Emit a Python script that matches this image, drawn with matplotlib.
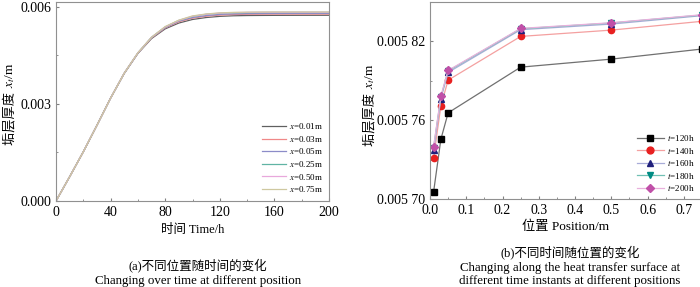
import numpy as np
import matplotlib
matplotlib.use("Agg")
import matplotlib.pyplot as plt
from matplotlib.ticker import MultipleLocator, FixedLocator, FixedFormatter

plt.rcParams['font.family'] = ['Liberation Serif', 'Noto Sans CJK SC']
plt.rcParams['mathtext.fontset'] = 'stix'

# (a) 不同位置随时间的变化
time_h = [0, 10, 20, 30, 40, 50, 60, 70, 80, 90, 100, 110, 120, 130, 140, 150, 160, 170, 180, 190, 200]
xf_001 = [0, 0.00075, 0.00152, 0.00234, 0.00318, 0.00394, 0.00456, 0.00502, 0.00532, 0.00550, 0.00561,
          0.00567, 0.005706, 0.005724, 0.005732, 0.005735, 0.005737, 0.005738, 0.005739, 0.0057395, 0.00574]
xf_003 = [0, 0.00075, 0.00152, 0.00234, 0.00318, 0.00395, 0.00457, 0.00504, 0.00535, 0.00554, 0.00565,
          0.00571, 0.005746, 0.005763, 0.005771, 0.005774, 0.005777, 0.005778, 0.005778, 0.005778, 0.005778]
xf_005 = [0, 0.00075, 0.00152, 0.00234, 0.00318, 0.00395, 0.00457, 0.00505, 0.00536, 0.00556, 0.00567,
          0.00573, 0.005766, 0.005783, 0.005791, 0.005794, 0.005796, 0.005797, 0.005798, 0.005798, 0.005798]
xf_025 = [0, 0.00075, 0.00152, 0.00234, 0.00318, 0.00395, 0.00458, 0.00506, 0.00538, 0.00558, 0.00570,
          0.00577, 0.005800, 0.005816, 0.005824, 0.005827, 0.005829, 0.005829, 0.005830, 0.005830, 0.005830]
xf_050 = [0, 0.00075, 0.00152, 0.00234, 0.00318, 0.00395, 0.00458, 0.00506, 0.00538, 0.00558, 0.00571,
          0.00577, 0.005807, 0.005822, 0.005829, 0.005832, 0.005833, 0.005834, 0.005834, 0.005834, 0.005834]
xf_075 = [0, 0.00075, 0.00152, 0.00234, 0.00318, 0.00395, 0.00458, 0.00506, 0.00539, 0.00559, 0.00572,
          0.00578, 0.005814, 0.005829, 0.005835, 0.005838, 0.005840, 0.005840, 0.005840, 0.005840, 0.005840]
labels_a = ['$x$=0.01m', '$x$=0.03m', '$x$=0.05m', '$x$=0.25m', '$x$=0.50m', '$x$=0.75m']

# (b) 不同时间随位置的变化
position_m = [0.01, 0.03, 0.05, 0.25, 0.5, 0.75]
t120 = [0.0057056, 0.0057455, 0.0057656, 0.0058004, 0.0058065, 0.0058142]
t140 = [0.0057315, 0.0057709, 0.0057905, 0.0058238, 0.0058286, 0.0058353]
t160 = [0.0057374, 0.0057765, 0.0057964, 0.0058289, 0.0058332, 0.0058396]
t180 = [0.0057392, 0.0057778, 0.0057975, 0.0058296, 0.0058340, 0.0058401]
t200 = [0.0057399, 0.0057783, 0.0057979, 0.0058299, 0.0058342, 0.0058403]
labels_b = ['$t$=120h', '$t$=140h', '$t$=160h', '$t$=180h', '$t$=200h']

fig = plt.figure(figsize=(7, 2.87), dpi=100)
W, H = 700.0, 287.0

def style_axes(ax):
    for s in ax.spines.values():
        s.set_color('#909090')
        s.set_linewidth(0.8)
    ax.tick_params(which='both', direction='in', colors='#808080', labelcolor='black',
                   labelsize=10, top=False, right=False)
    ax.tick_params(which='major', length=2.5)
    ax.tick_params(which='minor', length=1.5)

# ylabel with CJK text + mathtext, built from two rotated pieces
def ylabel_pieces(x_px, yc_px, size=9.5):
    t1 = fig.text(0, 0, '垢层厚度 ', rotation=90, rotation_mode='anchor',
                  ha='left', va='baseline', fontsize=size)
    t2 = fig.text(0, 0, '$x_t$/m', rotation=90, rotation_mode='anchor',
                  ha='left', va='baseline', fontsize=size)
    fig.canvas.draw()
    r = fig.canvas.get_renderer()
    h1 = t1.get_window_extent(r).height
    h2 = t2.get_window_extent(r).height
    y0 = (H - yc_px) - (h1 + h2) / 2
    t1.set_position((x_px / W, y0 / H))
    t2.set_position((x_px / W, (y0 + h1) / H))

# ---------- panel (a)
ax1 = fig.add_axes([56 / W, 86 / H, 273 / W, 199 / H])
cols_a = ['#606060', '#f08888', '#8c8cc8', '#60b4a4', '#e8a8dc', '#cfc8a0']
for ys, c, lab in zip([xf_001, xf_003, xf_005, xf_025, xf_050, xf_075], cols_a, labels_a):
    ax1.plot(time_h, ys, color=c, lw=0.9, label=lab)
ax1.set_xlim(0, 200)
ax1.set_ylim(0, 0.00615)
ax1.xaxis.set_major_locator(MultipleLocator(40))
ax1.xaxis.set_minor_locator(MultipleLocator(20))
ax1.yaxis.set_major_locator(FixedLocator([0.0, 0.003, 0.006]))
ax1.yaxis.set_major_formatter(FixedFormatter(['0.000', '0.003', '0.006']))
ax1.yaxis.set_minor_locator(MultipleLocator(0.0015))
style_axes(ax1)
ax1.set_xlabel('时间 Time/h', fontsize=9, labelpad=4)
ax1.legend(loc='upper left', bbox_to_anchor=(0.755, 0.40), frameon=False, fontsize=6.5,
           handlelength=2.6, handletextpad=0.4, labelspacing=0.28, borderpad=0, borderaxespad=0)

# ---------- panel (b)
ax2 = fig.add_axes([430 / W, 88 / H, 272 / W, 197 / H])
series_b = [t120, t140, t160, t180, t200]
line_cols = ['#707070', '#f4a0a0', '#a8acd8', '#70c0b4', '#e8b0dc']
mark_cols = ['#000000', '#e82020', '#20207c', '#008c84', '#c050a8']
markers = ['s', 'o', '^', 'v', 'D']
msizes = [4, 4.5, 4.5, 4.5, 4]
for ys, lc, mc, mk, ms, lab in zip(series_b, line_cols, mark_cols, markers, msizes, labels_b):
    ax2.plot(position_m, ys, color=lc, lw=0.9, marker=mk, ms=ms, mfc=mc, mec=mc, label=lab)
ax2.set_xlim(0, 0.75)
ax2.set_ylim(0.00570, 0.00585)
ax2.xaxis.set_major_locator(FixedLocator([0, 0.1, 0.2, 0.3, 0.4, 0.5, 0.6, 0.7]))
ax2.xaxis.set_major_formatter(FixedFormatter(['0.0', '0.1', '0.2', '0.3', '0.4', '0.5', '0.6', '0.7']))
ax2.xaxis.set_minor_locator(MultipleLocator(0.05))
ax2.yaxis.set_major_locator(FixedLocator([0.00570, 0.00576, 0.00582]))
ax2.yaxis.set_major_formatter(FixedFormatter(['0.005 70', '0.005 76', '0.005 82']))
ax2.yaxis.set_minor_locator(FixedLocator([0.00573, 0.00579, 0.00585]))
style_axes(ax2)
ax2.set_xlabel('位置 Position/m', fontsize=9.5, labelpad=3)
ax2.legend(loc='upper left', bbox_to_anchor=(0.76, 0.335), frameon=False, fontsize=6.5,
           handlelength=3.0, handletextpad=0.3, labelspacing=0.28, borderpad=0, borderaxespad=0,
           markerscale=1.1)

# ---------- captions
fig.text(198 / W, 1 - 265 / H, '(a)不同位置随时间的变化', ha='center', va='center', fontsize=9)
fig.text(198 / W, 1 - 281 / H, 'Changing over time at different position', ha='center', va='center', fontsize=9.3)
fig.text(570 / W, 1 - 252 / H, '(b)不同时间随位置的变化', ha='center', va='center', fontsize=9)
fig.text(570 / W, 1 - 268 / H, 'Changing along the heat transfer surface at', ha='center', va='center', fontsize=9.3)
fig.text(570 / W, 1 - 281 / H, 'different time instants at different positions', ha='center', va='center', fontsize=9.3)

ylabel_pieces(13, 104)
ylabel_pieces(373, 105)

fig.savefig('out.png', dpi=100)
